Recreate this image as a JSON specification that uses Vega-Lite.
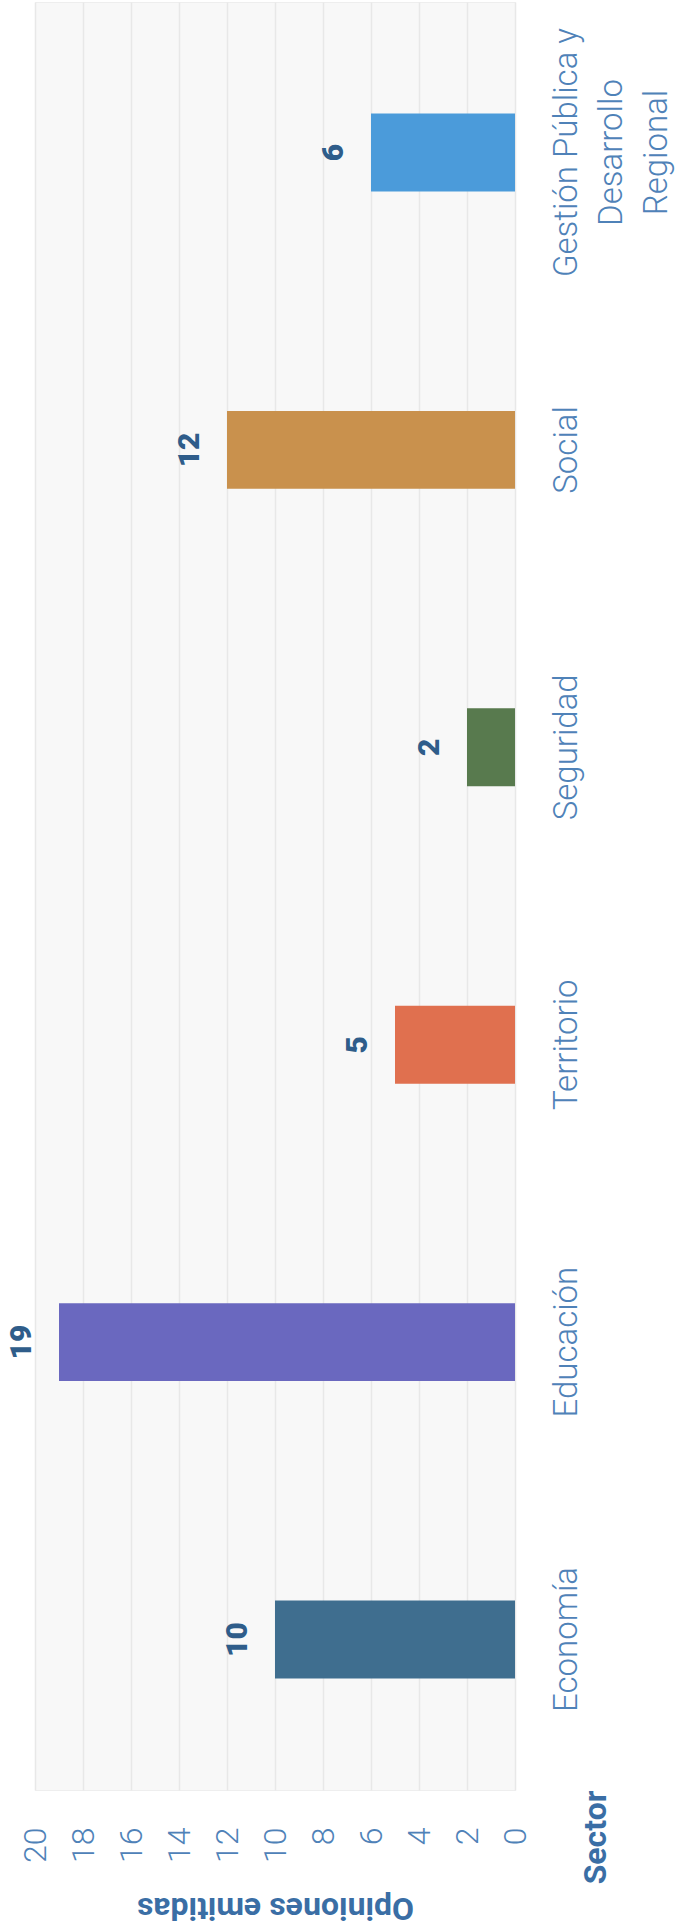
{
  "$schema": "https://vega.github.io/schema/vega-lite/v6.json",
  "width": 480,
  "height": 1788,
  "autosize": {"type": "none"},
  "padding": {"left": 35, "top": 2, "right": 171, "bottom": 137},
  "background": "white",
  "config": {
    "view": {"fill": "#f8f8f8", "stroke": "#eeeeee", "strokeWidth": 1},
    "font": "Roboto"
  },
  "data": {
    "values": [
      {"sector": "Economía", "opiniones": 10},
      {"sector": "Educación", "opiniones": 19},
      {"sector": "Territorio", "opiniones": 5},
      {"sector": "Seguridad", "opiniones": 2},
      {"sector": "Social", "opiniones": 12},
      {"sector": "Gestión Pública y Desarrollo Regional", "opiniones": 6}
    ]
  },
  "encoding": {
    "y": {
      "field": "sector",
      "type": "nominal",
      "sort": ["Gestión Pública y Desarrollo Regional", "Social", "Seguridad", "Territorio", "Educación", "Economía"],
      "scale": {"paddingInner": 0.738, "paddingOuter": 0.375},
      "axis": {
        "orient": "right",
        "title": "Sector",
        "labelExpr": "datum.value == 'Gestión Pública y Desarrollo Regional' ? ['Gestión Pública y', 'Desarrollo', 'Regional'] : datum.label",
        "labelAngle": -90,
        "labelAlign": "center",
        "labelBaseline": "top",
        "labelPadding": 35,
        "labelFont": "Roboto",
        "labelFontWeight": 300,
        "labelFontSize": 33,
        "labelLineHeight": 45,
        "labelColor": "#4f82b8",
        "labelLimit": 0,
        "ticks": false,
        "domain": false,
        "grid": false,
        "titleAngle": -90,
        "titleX": 80,
        "titleY": 1788,
        "titleAlign": "right",
        "titleBaseline": "middle",
        "titleFont": "Roboto",
        "titleFontWeight": "bold",
        "titleFontSize": 32,
        "titleColor": "#3a6ea5"
      }
    }
  },
  "layer": [
    {
      "mark": {"type": "bar"},
      "encoding": {
        "x": {
          "field": "opiniones",
          "type": "quantitative",
          "scale": {"domain": [0, 20], "reverse": true, "nice": false},
          "axis": {
            "orient": "bottom",
            "values": [0, 2, 4, 6, 8, 10, 12, 14, 16, 18, 20],
            "labelAngle": -90,
            "labelAlign": "right",
            "labelBaseline": "middle",
            "labelPadding": 37,
            "labelFont": "Roboto",
            "labelFontWeight": 300,
            "labelFontSize": 32,
            "labelColor": "#4f82b8",
            "ticks": false,
            "domain": false,
            "grid": true,
            "gridColor": "#e8e8e8",
            "gridWidth": 1.5,
            "title": "Opiniones emitidas",
            "titleAngle": 180,
            "titleAlign": "center",
            "titleBaseline": "alphabetic",
            "titleX": 240,
            "titleY": 107,
            "titleFont": "Roboto",
            "titleFontWeight": "bold",
            "titleFontSize": 32,
            "titleColor": "#3a6ea5"
          }
        },
        "color": {
          "field": "sector",
          "type": "nominal",
          "scale": {
            "domain": ["Economía", "Educación", "Territorio", "Seguridad", "Social", "Gestión Pública y Desarrollo Regional"],
            "range": ["#3f6e8f", "#6a68bf", "#e0704f", "#587a4e", "#c9914d", "#4b9bda"]
          },
          "legend": null
        }
      }
    },
    {
      "mark": {
        "type": "text",
        "angle": -90,
        "align": "center",
        "baseline": "bottom",
        "dy": -22,
        "font": "Roboto",
        "fontWeight": 900,
        "fontSize": 30,
        "color": "#2f5d8a"
      },
      "encoding": {
        "x": {"field": "opiniones", "type": "quantitative"},
        "text": {"field": "opiniones", "type": "quantitative"}
      }
    }
  ]
}
